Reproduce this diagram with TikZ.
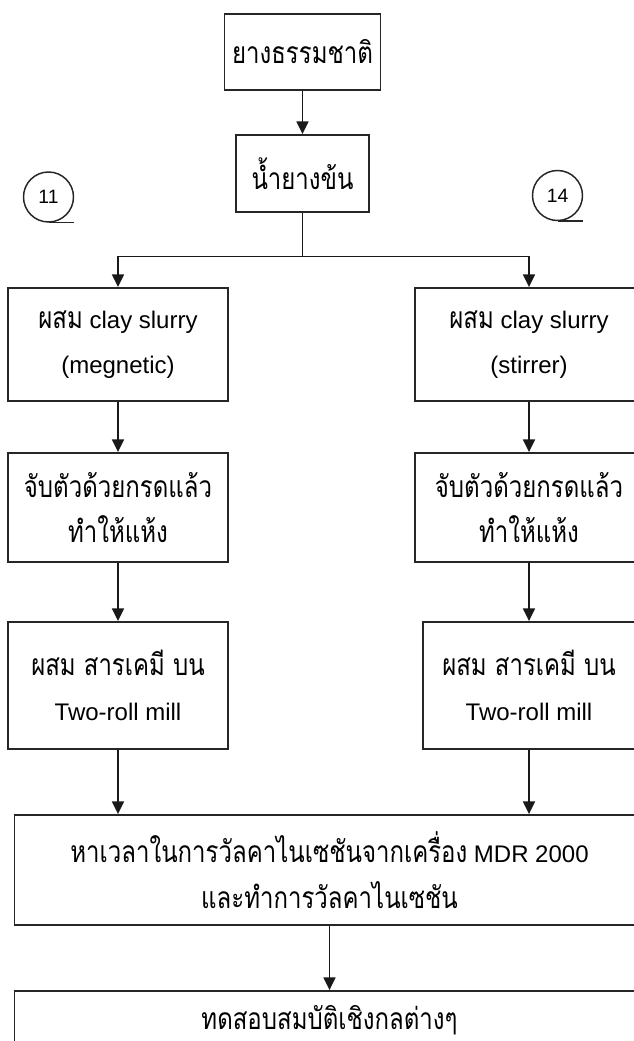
\documentclass[tikz,border=0pt]{standalone}
\usepackage{fontspec}
\setmainfont{Liberation Sans}
\newfontfamily\thaifont[Script=Thai,FakeStretch=0.8]{Loma}
\newcommand{\thtxt}[1]{{\thaifont\fontsize{22.5pt}{34pt}\selectfont #1}}
\usetikzlibrary{arrows.meta}

\begin{document}
\begin{tikzpicture}[x=0.75pt,y=-0.75pt,
  stepbox/.style={draw=black!85, line width=1.4pt, align=center, inner sep=0pt,
    font=\fontsize{18pt}{34pt}\selectfont},
  link/.style={draw=black!90, line width=1.25pt, -{Triangle[length=9.5pt,width=9pt]}},
  plain/.style={draw=black!90, line width=1.25pt},
  refmark/.style={circle, draw=black!85, line width=1.1pt, minimum size=37.5pt, inner sep=0pt,
    font=\fontsize{14.5pt}{16pt}\selectfont},
]
\clip (0,0) rectangle (634,1041);
\fill[white] (0,0) rectangle (634,1041);

% top chain
\node[stepbox, minimum width=117pt, minimum height=57pt] (nr) at (302.5,52) {\thtxt{ยางธรรมชาติ}};
\node[stepbox, minimum width=99.75pt, minimum height=57.75pt] (lx) at (302.5,173.5) {\thtxt{น้ำยางข้น}};

% reference marks
\node[refmark] (m11) at (48.5,197) {11};
\draw[black!85, line width=1.1pt] (m11.south) -- ++(25,0);
\node[refmark] (m14) at (557.5,195.5) {14};
\draw[black!85, line width=1.1pt] (m14.south) -- ++(25,0);

% left branch
\node[stepbox, minimum width=165pt, minimum height=84.75pt] (l1) at (118,344.5)
  {\thtxt{ผสม} clay slurry\\(megnetic)};
\node[stepbox, minimum width=165pt, minimum height=81.75pt] (l2) at (118,507.5)
  {\thtxt{จับตัวด้วยกรดแล้ว}\\\thtxt{ทำให้แห้ง}};
\node[stepbox, minimum width=165pt, minimum height=95.25pt] (l3) at (118,685.5)
  {\thtxt{ผสม สารเคมี บน}\\Two-roll mill};

% right branch
\node[stepbox, minimum width=171pt, minimum height=84.75pt] (r1) at (529,344.5)
  {\thtxt{ผสม} clay slurry\\(stirrer)};
\node[stepbox, minimum width=171pt, minimum height=81.75pt] (r2) at (529,507.5)
  {\thtxt{จับตัวด้วยกรดแล้ว}\\\thtxt{ทำให้แห้ง}};
\node[stepbox, minimum width=159pt, minimum height=95.25pt] (r3) at (529,685.5)
  {\thtxt{ผสม สารเคมี บน}\\Two-roll mill};

% joint steps
\node[stepbox, minimum width=472.5pt, minimum height=82.5pt] (vu) at (329.5,870)
  {\thtxt{หาเวลาในการวัลคาไนเซชันจากเครื่อง} MDR 2000\\\thtxt{และทำการวัลคาไนเซชัน}};
\node[stepbox, minimum width=472.5pt, minimum height=43.5pt] (te) at (329.5,1020)
  {\thtxt{ทดสอบสมบัติเชิงกลต่างๆ}};

% connectors
\coordinate (split) at (302.5,256.5);
\draw[link] (nr) -- (lx);
\draw[plain] (lx) -- (split);
\draw[link] (split) -| (l1.north);
\draw[link] (split) -| (r1.north);
\draw[link] (l1) -- (l2);
\draw[link] (l2) -- (l3);
\draw[link] (r1) -- (r2);
\draw[link] (r2) -- (r3);
\draw[link] (l3.south) -- (l3.south |- vu.north);
\draw[link] (r3.south) -- (r3.south |- vu.north);
\draw[link] (vu) -- (te);
\end{tikzpicture}
\end{document}
